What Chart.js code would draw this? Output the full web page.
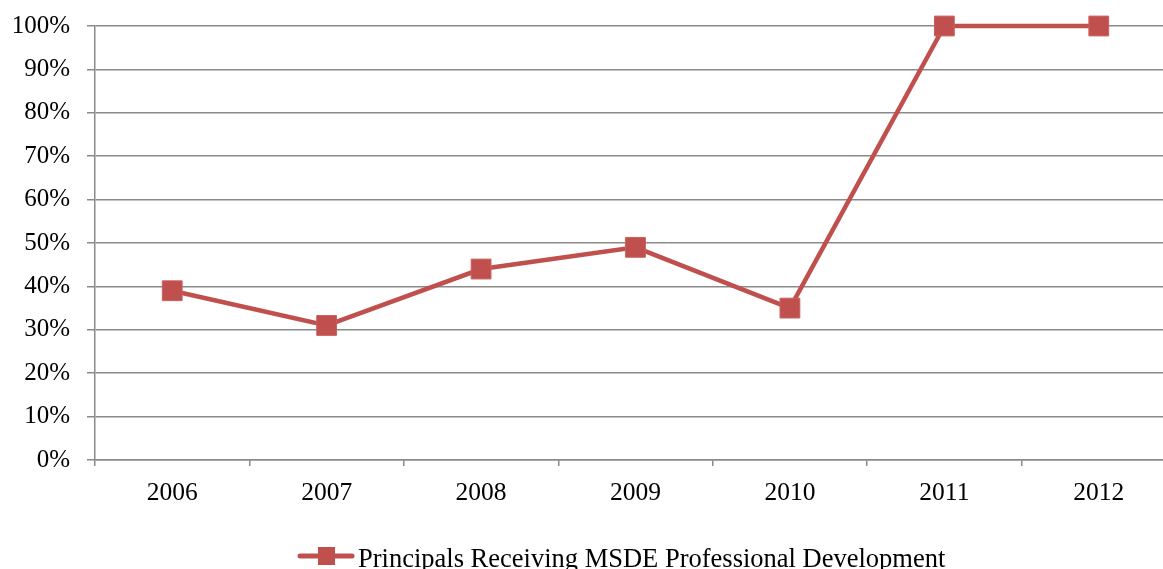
<!DOCTYPE html>
<html>
<head>
<meta charset="utf-8">
<script src="https://cdn.jsdelivr.net/npm/chart.js@4"></script>
<style>
html,body{margin:0;padding:0;background:#fff;overflow:hidden;width:1163px;height:569px;}
#wrap{width:1191px;height:569px;}
</style>
</head>
<body>
<div id="wrap"><canvas id="c" width="1191" height="569"></canvas></div>
<script>
const categories = ['2006','2007','2008','2009','2010','2011','2012'];
const seriesName = 'Principals Receiving MSDE Professional Development';
const seriesValues = [39, 31, 44, 49, 35, 100, 100];
const yTicks = [0,10,20,30,40,50,60,70,80,90,100];

const RED = '#C0504D';
const GRID = '#8a8a8a';
const FONT = '"Liberation Serif", "Times New Roman", serif';

const legendPlugin = {
  id: 'customLegend',
  afterDraw(chart) {
    const ctx = chart.ctx;
    ctx.save();
    const cy = 556;
    ctx.strokeStyle = RED;
    ctx.lineWidth = 5;
    ctx.lineCap = 'round';
    ctx.beginPath();
    ctx.moveTo(300, cy);
    ctx.lineTo(352, cy);
    ctx.stroke();
    ctx.fillStyle = RED;
    ctx.fillRect(318, cy - 9, 17, 18);
    ctx.fillStyle = '#000';
    ctx.font = '26.5px ' + FONT;
    ctx.textBaseline = 'alphabetic';
    ctx.textAlign = 'left';
    ctx.fillText(chart.data.datasets[0].label, 358, 567);
    ctx.restore();
  }
};

new Chart(document.getElementById('c'), {
  type: 'line',
  data: {
    labels: categories,
    datasets: [{
      label: seriesName,
      data: seriesValues,
      borderColor: RED,
      backgroundColor: RED,
      borderWidth: 4.5,
      pointStyle: 'rect',
      pointRadius: 14,
      pointHoverRadius: 14,
      pointBorderWidth: 1,
      pointBorderColor: '#c9605d',
      tension: 0,
      clip: false
    }]
  },
  options: {
    responsive: false,
    animation: false,
    events: [],
    layout: { padding: { top: 26, right: 0, bottom: 0, left: 0 } },
    plugins: { legend: { display: false }, tooltip: { enabled: false } },
    scales: {
      x: {
        type: 'category',
        offset: true,
        grid: { display: true, drawOnChartArea: false, drawTicks: true, tickLength: 6, offset: true, color: GRID, lineWidth: 1.5 },
        border: { display: true, color: GRID, width: 1.5 },
        ticks: { color: '#000', font: { family: FONT, size: 25.5 }, padding: 12, maxRotation: 0, autoSkip: false },
        afterFit(scale) { scale.height = 109; }
      },
      y: {
        min: 0,
        max: 100,
        afterBuildTicks(scale) { scale.ticks = yTicks.map(v => ({ value: v })); },
        grid: { color: GRID, lineWidth: 1.5, drawTicks: true, tickLength: 8 },
        border: { display: true, color: GRID, width: 1.5 },
        ticks: { color: '#000', font: { family: FONT, size: 25 }, padding: 17, callback: v => v + '%' },
        afterFit(scale) { scale.width = 95; scale.paddingTop = 0; scale.paddingBottom = 0; }
      }
    }
  },
  plugins: [legendPlugin]
});
</script>
</body>
</html>
